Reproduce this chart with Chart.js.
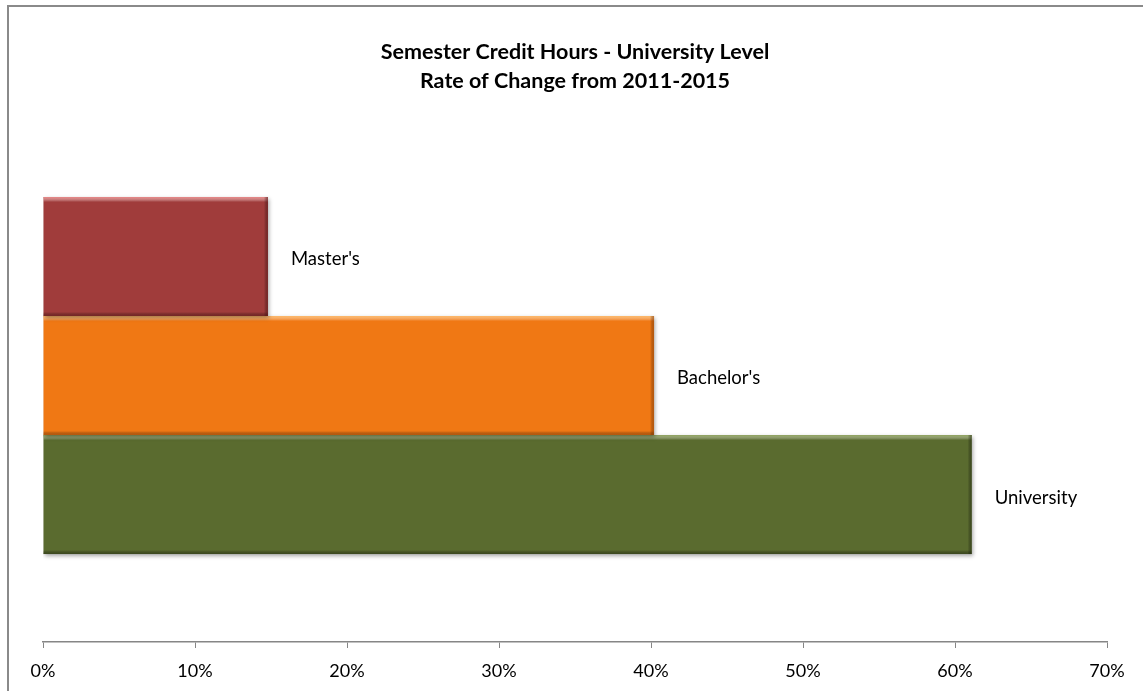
<!DOCTYPE html>
<html>
<head>
<meta charset="utf-8">
<script src="https://cdn.jsdelivr.net/npm/chart.js@4/dist/chart.umd.min.js"></script>
<style>
html,body{margin:0;padding:0;background:#fff;}
#wrap{position:relative;width:1143px;height:691px;}
</style>
</head>
<body>
<div id="wrap"><canvas id="c" width="1143" height="691"></canvas></div>
<script>
const categories = [''];
const seriesNames = ["Master's", "Bachelor's", "University"];
const masters = [14.8];
const bachelors = [40.2];
const university = [61.1];
const xTicks = [0, 10, 20, 30, 40, 50, 60, 70];
const titleLines = ['Semester Credit Hours - University Level', 'Rate of Change from 2011-2015'];

const fills = ['#A03C3B', '#F07814', '#5A6B2F'];
const lights = ['rgba(240,140,140,0.9)', 'rgba(255,190,110,0.9)', 'rgba(150,170,100,0.9)'];
const darks = ['rgba(90,25,25,0.6)', 'rgba(150,70,10,0.6)', 'rgba(40,50,20,0.6)'];

const FONT = 'Lato, "Open Sans", "Liberation Sans", sans-serif';

const deco = {
  id: 'deco',
  beforeDraw(chart) {
    const ctx = chart.ctx;
    ctx.save();
    ctx.fillStyle = '#fff';
    ctx.fillRect(0, 0, chart.width, chart.height);
    ctx.strokeStyle = '#8a8a8a';
    ctx.lineWidth = 2;
    ctx.strokeRect(8, 6, 1200, 760);
    ctx.restore();
  },
  beforeDatasetDraw(chart, args) {
    const ctx = chart.ctx;
    ctx.save();
    ctx.shadowColor = 'rgba(0,0,0,0.35)';
    ctx.shadowBlur = 4;
    ctx.shadowOffsetX = 1;
    ctx.shadowOffsetY = 2;
  },
  afterDatasetDraw(chart, args) {
    const ctx = chart.ctx;
    ctx.restore();
    const i = args.index;
    const el = args.meta.data[0];
    const left = Math.min(el.x, el.base), right = Math.max(el.x, el.base);
    const top = el.y - el.height / 2, bottom = el.y + el.height / 2;
    ctx.save();
    let g = ctx.createLinearGradient(0, top, 0, top + 5);
    g.addColorStop(0, lights[i]); g.addColorStop(1, 'rgba(255,255,255,0)');
    ctx.fillStyle = g; ctx.fillRect(left, top, right - left, 5);
    g = ctx.createLinearGradient(0, bottom - 4, 0, bottom);
    g.addColorStop(0, 'rgba(0,0,0,0)'); g.addColorStop(1, darks[i]);
    ctx.fillStyle = g; ctx.fillRect(left, bottom - 4, right - left, 4);
    g = ctx.createLinearGradient(right - 4, 0, right, 0);
    g.addColorStop(0, 'rgba(0,0,0,0)'); g.addColorStop(1, darks[i]);
    ctx.fillStyle = g; ctx.fillRect(right - 4, top, 4, bottom - top);
    ctx.restore();
  },
  afterDatasetsDraw(chart) {
    const ctx = chart.ctx;
    ctx.save();
    ctx.font = '18.5px ' + FONT;
    ctx.fillStyle = '#000';
    ctx.textBaseline = 'middle';
    ctx.textAlign = 'left';
    chart.data.datasets.forEach((ds, i) => {
      const el = chart.getDatasetMeta(i).data[0];
      ctx.fillText(ds.label, el.x + 23, el.y + 3);
    });
    ctx.restore();
  }
};

new Chart(document.getElementById('c'), {
  type: 'bar',
  data: {
    labels: categories,
    datasets: [
      { label: seriesNames[0], data: masters, backgroundColor: fills[0], borderWidth: 0 },
      { label: seriesNames[1], data: bachelors, backgroundColor: fills[1], borderWidth: 0 },
      { label: seriesNames[2], data: university, backgroundColor: fills[2], borderWidth: 0 }
    ]
  },
  options: {
    indexAxis: 'y',
    responsive: false,
    animation: false,
    devicePixelRatio: 1,
    datasets: { bar: { categoryPercentage: 0.67, barPercentage: 1.0 } },
    layout: { padding: { left: 43, right: 36, top: 0, bottom: 0 } },
    plugins: {
      legend: { display: false },
      tooltip: { enabled: false },
      title: {
        display: true,
        text: titleLines,
        color: '#000',
        font: { family: FONT, size: 21.5, weight: 'bold', lineHeight: 1.35 },
        padding: { top: 38, bottom: 13 }
      }
    },
    scales: {
      y: { display: false },
      x: {
        min: 0, max: 70,
        afterBuildTicks(axis) { axis.ticks = xTicks.map(v => ({ value: v })); },
        afterFit(axis) { axis.height = 49; },
        ticks: { callback: v => v + '%', color: '#000', font: { family: FONT, size: 18, lineHeight: 1.0 }, padding: 14, maxRotation: 0 },
        grid: { drawOnChartArea: false, drawTicks: true, tickLength: 6, color: '#868686' },
        border: { display: true, color: '#868686', width: 1.5 }
      }
    }
  },
  plugins: [deco]
});
</script>
</body>
</html>
